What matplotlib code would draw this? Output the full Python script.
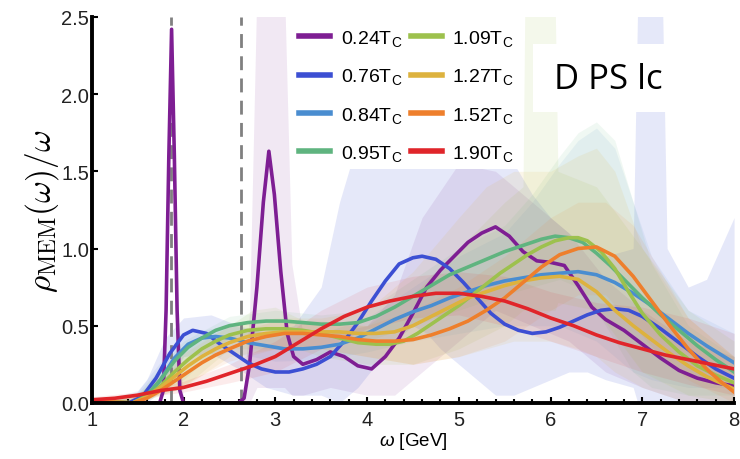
import matplotlib
matplotlib.use("Agg")
import matplotlib.pyplot as plt
from matplotlib.patches import Rectangle

plt.rcParams['font.family'] = ['Liberation Sans', 'DejaVu Sans']
plt.rcParams['mathtext.fontset'] = 'custom'
plt.rcParams['mathtext.rm'] = 'Liberation Sans'
plt.rcParams['mathtext.it'] = 'Liberation Sans:italic'

# --- curves (omega in GeV, rho/omega) ---
w_024 = [1.0, 1.74, 1.78, 1.81, 1.84, 1.87, 1.90, 1.93, 1.96, 2.0, 2.6, 2.66, 2.72, 2.8, 2.87, 2.93, 2.99, 3.06, 3.13, 3.2,
         3.3, 3.45, 3.6, 3.75, 3.9, 4.05, 4.2, 4.35, 4.5, 4.65, 4.8, 4.95, 5.1, 5.25, 5.4, 5.55, 5.7, 5.85, 6.0, 6.15,
         6.3, 6.45, 6.6, 6.8, 7.0, 7.2, 7.4, 7.6, 7.8, 8.0]
y_024 = [0, 0, 0.08, 0.6, 1.6, 2.42, 1.6, 0.6, 0.08, 0, 0, 0.03, 0.25, 0.75, 1.3, 1.63, 1.35, 0.85, 0.45, 0.3,
         0.25, 0.28, 0.33, 0.3, 0.24, 0.22, 0.3, 0.42, 0.58, 0.75, 0.86, 0.95, 1.04, 1.1, 1.14, 1.08, 0.98, 0.92, 0.91, 0.89,
         0.76, 0.62, 0.54, 0.47, 0.38, 0.29, 0.21, 0.16, 0.13, 0.11]

w_076 = [1.0, 1.4, 1.55, 1.7, 1.85, 2.0, 2.1, 2.25, 2.4, 2.55, 2.7, 2.85, 3.0, 3.15, 3.3, 3.45, 3.6, 3.75, 3.9, 4.05,
         4.2, 4.35, 4.5, 4.6, 4.75, 4.9, 5.05, 5.2, 5.35, 5.5, 5.65, 5.8, 5.95, 6.1, 6.25, 6.4, 6.55, 6.7, 6.85, 7.0,
         7.2, 7.4, 7.6, 7.8, 8.0]
y_076 = [0.01, 0, 0.04, 0.16, 0.32, 0.44, 0.47, 0.45, 0.38, 0.32, 0.26, 0.22, 0.2, 0.2, 0.22, 0.25, 0.3, 0.4, 0.52, 0.66,
         0.79, 0.9, 0.94, 0.95, 0.93, 0.87, 0.78, 0.68, 0.58, 0.51, 0.47, 0.45, 0.46, 0.49, 0.53, 0.57, 0.6, 0.61, 0.6, 0.56,
         0.48, 0.39, 0.3, 0.22, 0.16]

w_mid = [1.0, 1.45, 1.6, 1.75, 1.9, 2.05, 2.2, 2.35, 2.5, 2.7, 2.9, 3.1, 3.3, 3.5, 3.7, 3.9, 4.1, 4.3, 4.5, 4.7,
         4.9, 5.1, 5.3, 5.5, 5.7, 5.9, 6.1, 6.3, 6.5, 6.7, 6.9, 7.1, 7.3, 7.5, 7.7, 8.0]
y_084 = [0.01, 0, 0.04, 0.15, 0.29, 0.38, 0.42, 0.43, 0.42, 0.39, 0.37, 0.35, 0.35, 0.36, 0.38, 0.42, 0.48, 0.54, 0.59, 0.63,
         0.68, 0.72, 0.76, 0.79, 0.81, 0.83, 0.84, 0.85, 0.83, 0.78, 0.71, 0.63, 0.54, 0.45, 0.37, 0.26]
y_127 = [0.01, 0, 0.04, 0.1, 0.17, 0.24, 0.3, 0.35, 0.39, 0.43, 0.45, 0.46, 0.46, 0.46, 0.46, 0.45, 0.45, 0.46, 0.5, 0.56,
         0.62, 0.68, 0.72, 0.76, 0.79, 0.81, 0.82, 0.8, 0.72, 0.6, 0.5, 0.41, 0.32, 0.24, 0.17, 0.09]

w_095 = [1.0, 1.45, 1.6, 1.75, 1.9, 2.05, 2.2, 2.35, 2.5, 2.7, 2.9, 3.1, 3.3, 3.5, 3.7, 3.9, 4.1, 4.3, 4.5, 4.7,
         4.9, 5.1, 5.3, 5.5, 5.7, 5.9, 6.05, 6.2, 6.35, 6.5, 6.65, 6.8, 7.0, 7.2, 7.4, 7.6, 7.8, 8.0]
y_095 = [0.01, 0, 0.05, 0.15, 0.27, 0.36, 0.42, 0.47, 0.5, 0.52, 0.53, 0.53, 0.52, 0.51, 0.51, 0.52, 0.56, 0.62, 0.69, 0.76,
         0.83, 0.88, 0.93, 0.98, 1.02, 1.06, 1.08, 1.07, 1.04, 0.97, 0.89, 0.8, 0.68, 0.57, 0.47, 0.37, 0.28, 0.2]

w_109 = [1.0, 1.45, 1.6, 1.75, 1.9, 2.05, 2.2, 2.35, 2.5, 2.7, 2.9, 3.1, 3.3, 3.5, 3.7, 3.9, 4.1, 4.25, 4.4, 4.55,
         4.7, 4.85, 5.0, 5.15, 5.3, 5.45, 5.6, 5.75, 5.9, 6.05, 6.2, 6.3, 6.4, 6.55, 6.7, 6.85, 7.0, 7.2, 7.4, 7.6,
         7.8, 8.0]
y_109 = [0.01, 0, 0.04, 0.11, 0.2, 0.28, 0.35, 0.4, 0.44, 0.47, 0.48, 0.48, 0.47, 0.45, 0.42, 0.39, 0.38, 0.38, 0.4, 0.45,
         0.51, 0.57, 0.63, 0.7, 0.77, 0.84, 0.9, 0.96, 1.01, 1.05, 1.07, 1.07, 1.05, 0.98, 0.87, 0.72, 0.58, 0.44, 0.33, 0.24,
         0.18, 0.13]

w_152 = [1.0, 1.45, 1.6, 1.75, 1.9, 2.05, 2.2, 2.35, 2.5, 2.7, 2.9, 3.1, 3.3, 3.5, 3.7, 3.9, 4.1, 4.3, 4.5, 4.7,
         4.9, 5.1, 5.3, 5.5, 5.7, 5.9, 6.1, 6.3, 6.5, 6.7, 6.9, 7.1, 7.3, 7.5, 7.7, 7.85, 8.0]
y_152 = [0.01, 0, 0.03, 0.08, 0.14, 0.2, 0.26, 0.31, 0.35, 0.4, 0.43, 0.45, 0.45, 0.44, 0.43, 0.41, 0.4, 0.4, 0.41, 0.44,
         0.48, 0.53, 0.6, 0.68, 0.78, 0.88, 0.96, 1.0, 1.01, 0.95, 0.82, 0.66, 0.5, 0.35, 0.22, 0.14, 0.07]

w_190 = [1.0, 1.25, 1.5, 1.75, 2.0, 2.25, 2.5, 2.75, 3.0, 3.25, 3.5, 3.75, 4.0, 4.25, 4.5, 4.75, 5.0, 5.25, 5.5, 5.75,
         6.0, 6.25, 6.5, 6.75, 7.0, 7.25, 7.5, 7.75, 8.0]
y_190 = [0.02, 0.03, 0.05, 0.08, 0.1, 0.14, 0.19, 0.24, 0.3, 0.39, 0.48, 0.56, 0.62, 0.66, 0.69, 0.71, 0.71, 0.69, 0.66, 0.61,
         0.55, 0.5, 0.44, 0.39, 0.35, 0.31, 0.28, 0.25, 0.22]

# --- error bands ---
bw_024 = [1.0, 1.75, 1.8, 1.87, 1.94, 2.0, 2.65, 2.72, 2.8, 3.1, 3.18, 3.3, 3.6, 4.0, 4.3, 4.6, 5.0, 5.4, 5.8, 6.2, 6.6, 7.0, 7.5, 8.0]
lo_024 = [0, 0, 0.2, 2.2, 0.2, 0, 0, 0, 0.1, 0.1, 0.05, 0.05, 0.1, 0.05, 0.05, 0.2, 0.4, 0.6, 0.5, 0.4, 0.2, 0.1, 0.0, 0.0]
hi_024 = [0, 0, 0.5, 2.55, 0.5, 0, 0, 0.6, 2.7, 2.7, 0.9, 0.45, 0.45, 0.5, 0.7, 1.2, 1.55, 1.5, 1.3, 1.1, 0.8, 0.6, 0.4, 0.3]

bw_076 = [1.0, 1.4, 1.6, 1.8, 2.0, 2.3, 2.6, 2.9, 3.2, 3.5, 3.7, 3.9, 4.1, 4.3, 4.5, 4.65, 4.8, 5.0, 5.2, 5.4,
          5.6, 5.8, 6.0, 6.2, 6.4, 6.6, 6.9, 6.95, 7.22, 7.27, 7.5, 7.7, 7.85, 8.0]
hi_076 = [0, 0, 0.15, 0.42, 0.55, 0.57, 0.5, 0.45, 0.5, 0.75, 1.3, 1.7, 2.0, 2.2, 2.3, 2.0, 2.2, 2.1, 1.95, 1.8,
          1.55, 1.35, 1.2, 1.1, 1.0, 0.95, 1.0, 2.6, 2.6, 1.0, 0.75, 0.8, 1.0, 1.2]
lo_076 = [0, 0, 0, 0.1, 0.3, 0.32, 0.22, 0.1, 0.05, 0.05, 0, 0.1, 0.25, 0.4, 0.5, 0.45, 0.35, 0.25, 0.15, 0.05,
          0.05, 0.1, 0.15, 0.2, 0.2, 0.15, 0.1, 0, 0, 0, 0, 0, 0, 0]

bw_mid = [1.0, 1.5, 2.0, 2.5, 3.0, 3.5, 4.0, 4.5, 5.0, 5.5, 5.8, 6.1, 6.3, 6.5, 6.7, 6.9, 7.1, 7.5, 8.0]
hi_084 = [0, 0.08, 0.45, 0.5, 0.45, 0.45, 0.55, 0.75, 0.95, 1.1, 1.3, 1.55, 1.7, 1.78, 1.65, 1.3, 0.95, 0.6, 0.45]
lo_084 = [0, 0, 0.25, 0.33, 0.27, 0.28, 0.33, 0.4, 0.45, 0.5, 0.5, 0.5, 0.45, 0.4, 0.3, 0.2, 0.15, 0.1, 0.1]
hi_095 = [0, 0.06, 0.4, 0.56, 0.6, 0.57, 0.6, 0.8, 1.0, 1.15, 1.35, 1.6, 1.75, 1.82, 1.7, 1.3, 0.9, 0.5, 0.3]
lo_095 = [0, 0, 0.15, 0.42, 0.45, 0.45, 0.4, 0.5, 0.6, 0.7, 0.75, 0.8, 0.75, 0.6, 0.4, 0.2, 0.1, 0.05, 0.05]

bw_109 = [1.0, 1.5, 2.0, 2.5, 2.75, 3.0, 3.25, 3.5, 4.0, 4.5, 5.0, 5.5, 5.7, 5.72, 6.05, 6.08, 6.5, 7.0, 7.5, 8.0]
hi_109 = [0, 0.05, 0.35, 0.5, 0.6, 0.62, 0.55, 0.5, 0.5, 0.7, 1.0, 1.3, 1.4, 2.6, 2.6, 1.5, 1.4, 1.0, 0.6, 0.4]
lo_109 = [0, 0, 0.1, 0.35, 0.35, 0.35, 0.35, 0.3, 0.25, 0.25, 0.35, 0.5, 0.6, 0.6, 0.6, 0.65, 0.6, 0.2, 0.05, 0.0]

bw_127 = [1.0, 1.5, 2.0, 2.5, 3.0, 3.5, 4.0, 4.5, 5.0, 5.3, 5.6, 6.0, 6.3, 6.5, 6.7, 7.0, 7.5, 8.0]
hi_127 = [0, 0.05, 0.32, 0.5, 0.55, 0.55, 0.6, 0.85, 1.2, 1.4, 1.5, 1.5, 1.6, 1.65, 1.5, 1.0, 0.55, 0.3]
lo_127 = [0, 0, 0.1, 0.3, 0.35, 0.35, 0.3, 0.25, 0.3, 0.35, 0.4, 0.4, 0.35, 0.3, 0.2, 0.1, 0.0, 0.0]

bw_152 = [1.0, 1.5, 2.0, 2.5, 3.0, 3.5, 4.0, 4.5, 5.0, 5.5, 6.0, 6.3, 6.6, 6.9, 7.2, 7.5, 8.0]
hi_152 = [0, 0.05, 0.28, 0.45, 0.53, 0.53, 0.5, 0.6, 0.75, 0.95, 1.2, 1.3, 1.3, 1.15, 0.85, 0.55, 0.3]
lo_152 = [0, 0, 0.12, 0.27, 0.35, 0.35, 0.3, 0.25, 0.3, 0.4, 0.6, 0.7, 0.7, 0.5, 0.3, 0.15, 0.0]

bw_190 = [1.0, 1.5, 2.0, 2.5, 3.0, 3.5, 4.0, 4.5, 5.0, 5.5, 6.0, 6.5, 7.0, 7.5, 8.0]
hi_190 = [0.04, 0.07, 0.14, 0.25, 0.4, 0.6, 0.75, 0.82, 0.85, 0.82, 0.72, 0.65, 0.62, 0.55, 0.45]
lo_190 = [0.0, 0.03, 0.07, 0.13, 0.2, 0.35, 0.48, 0.55, 0.57, 0.5, 0.4, 0.3, 0.2, 0.12, 0.05]

labels = ["0.24", "0.76", "0.84", "0.95", "1.09", "1.27", "1.52", "1.90"]
colors = ['#7E1E93', '#3C4FD3', '#4A8DD0', '#5FB47F', '#9DC14D', '#DDB23E', '#EE7F2C', '#E0252A']
mass_lines = [1.865, 2.63]

curves = [(w_024, y_024), (w_076, y_076), (w_mid, y_084), (w_095, y_095),
          (w_109, y_109), (w_mid, y_127), (w_152, y_152), (w_190, y_190)]
bands = [(bw_024, lo_024, hi_024), (bw_076, lo_076, hi_076), (bw_mid, lo_084, hi_084), (bw_mid, lo_095, hi_095),
         (bw_109, lo_109, hi_109), (bw_127, lo_127, hi_127), (bw_152, lo_152, hi_152), (bw_190, lo_190, hi_190)]
band_alpha = [0.1, 0.13, 0.09, 0.09, 0.11, 0.11, 0.09, 0.09]

fig = plt.figure(figsize=(7.4, 4.6), dpi=100)
ax = fig.add_axes([0.124, 0.122, 0.868, 0.839])

for (bw, lo, hi), c, a in zip(bands, colors, band_alpha):
    ax.fill_between(bw, lo, hi, color=c, alpha=a, linewidth=0)

for xv in mass_lines:
    ax.axvline(xv, color='#808080', lw=2, dashes=(5, 3), zorder=2)

handles = []
for (w, y), c, lab in zip(curves, colors, labels):
    h, = ax.plot(w, y, color=c, lw=2.6, zorder=3, solid_joinstyle='round',
                 label=lab + r"T$_{\mathrm{C}}$")
    handles.append(h)

ax.set_xlim(1, 8)
ax.set_ylim(0, 2.5)
ax.set_xticks(range(1, 9))
ax.set_xticks([1 + 0.2 * i for i in range(36)], minor=True)
ax.set_yticks([0, 0.5, 1.0, 1.5, 2.0, 2.5])
ax.set_yticklabels(["0.0", "0.5", "1.0", "1.5", "2.0", "2.5"])
ax.tick_params(axis='both', which='major', direction='in', length=4, width=1.5, labelsize=14.5,
               labelcolor='#222222')
ax.tick_params(axis='x', which='major', pad=5)
ax.tick_params(axis='y', which='major', pad=2)
ax.tick_params(axis='x', which='minor', direction='in', length=3, width=1.5)
for s in ['top', 'right']:
    ax.spines[s].set_visible(False)
for s in ['left', 'bottom']:
    ax.spines[s].set_linewidth(2.8)
    ax.spines[s].set_zorder(5)

ax.set_xlabel(r"$\it{\omega}$ [GeV]", fontsize=13.5, labelpad=1)
ax.set_ylabel(r"$\rho_{\mathrm{MEM}}(\omega)/\omega$", fontsize=24, math_fontfamily='cm', labelpad=0)

leg = ax.legend(handles=handles, ncol=2, loc='upper left', bbox_to_anchor=(0.298, 1.012),
                fontsize=14, frameon=True, framealpha=1, edgecolor='white', fancybox=False,
                handlelength=1.6, handletextpad=0.55, columnspacing=0.45, labelspacing=0.95,
                borderpad=0.3)
leg.get_frame().set_linewidth(0)
for line in leg.get_lines():
    line.set_linewidth(4)

fig.patches.append(Rectangle((533 / 740, 1 - 113 / 460), 137 / 740, 68 / 460,
                             transform=fig.transFigure, facecolor='white', edgecolor='none', zorder=10))
fig.text(608 / 740, 1 - 80 / 460, "D PS lc", fontsize=25, family='Open Sans', ha='center', va='center', zorder=11)

fig.savefig("out.png", dpi=100)
